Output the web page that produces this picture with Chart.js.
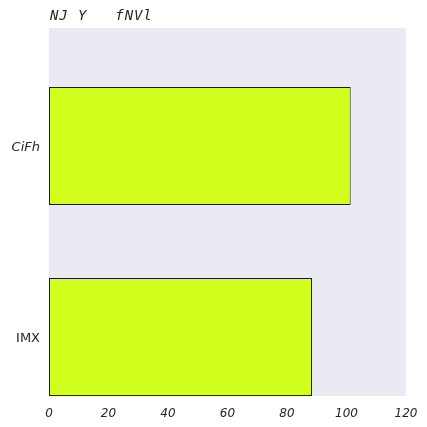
<!DOCTYPE html>
<html>
<head>
<meta charset="utf-8">
<script src="https://cdn.jsdelivr.net/npm/chart.js@4/dist/chart.umd.min.js"></script>
<style>
html,body{margin:0;padding:0;background:#fff;}
#wrap{width:427px;height:427px;}
</style>
</head>
<body>
<div id="wrap"><canvas id="c" width="427" height="427"></canvas></div>
<script>
const titleText = 'NJ Y   fNVl';
const categories = ['IMX', 'CiFh'];
const italicCats = [false, true];
const values = [88.4, 101.4];
const xTicks = [0, 20, 40, 60, 80, 100, 120];

const bgPlugin = {
  id: 'bgPlugin',
  beforeDraw(chart) {
    const {ctx, chartArea: a} = chart;
    ctx.save();
    ctx.fillStyle = '#EAEAF2';
    ctx.fillRect(a.left, a.top, a.right - a.left, a.bottom - a.top);
    ctx.restore();
  },
  afterDraw(chart) {
    const {ctx, chartArea: a} = chart;
    ctx.save();
    ctx.font = 'italic 14px "DejaVu Sans Mono", monospace';
    if ('letterSpacing' in ctx) ctx.letterSpacing = '0.9px';
    ctx.fillStyle = '#262626';
    ctx.textAlign = 'left';
    ctx.textBaseline = 'alphabetic';
    ctx.fillText(titleText, a.left + 1, 20);
    ctx.restore();
  }
};

new Chart(document.getElementById('c'), {
  type: 'bar',
  data: {
    datasets: [{
      data: categories.map((c, i) => ({x: values[i], y: i})),
      backgroundColor: '#D3FF1F',
      borderColor: '#1a1a1a',
      borderWidth: 1,
      borderSkipped: false,
      barPercentage: 0.618,
      categoryPercentage: 1
    }]
  },
  options: {
    indexAxis: 'y',
    responsive: false,
    animation: false,
    layout: {padding: {top: 28, right: 21, left: 0, bottom: 0}},
    plugins: {legend: {display: false}, tooltip: {enabled: false}, title: {display: false}},
    scales: {
      x: {
        type: 'linear',
        min: 0, max: 120,
        offset: false,
        afterBuildTicks(axis) { axis.ticks = xTicks.map(v => ({value: v})); },
        grid: {display: false},
        border: {display: false},
        ticks: {
          color: '#262626',
          font: {family: '"DejaVu Sans", sans-serif', size: 12, style: 'italic'},
          padding: 3,
          maxRotation: 0
        },
        afterFit(axis) { axis.height = 31; }
      },
      y: {
        type: 'linear',
        min: -0.309, max: 1.618,
        offset: false,
        afterBuildTicks(axis) { axis.ticks = categories.map((c, i) => ({value: i})); },
        grid: {display: false},
        border: {display: false},
        ticks: {
          color: '#262626',
          padding: 1,
          labelOffset: 2,
          font: (ctx) => ({family: '"DejaVu Sans", sans-serif', size: 13, style: (ctx.tick && italicCats[ctx.tick.value]) ? 'italic' : 'normal'}),
          callback: (v) => categories[v] !== undefined ? categories[v] : ''
        },
        afterFit(axis) { axis.width = 49; }
      }
    }
  },
  plugins: [bgPlugin]
});
</script>
</body>
</html>
